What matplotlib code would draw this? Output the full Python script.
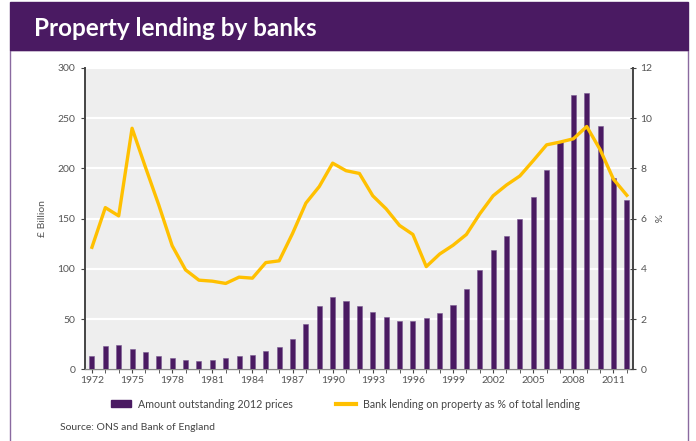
import matplotlib
matplotlib.use("Agg")
import matplotlib.pyplot as plt
from matplotlib.patches import Rectangle
from matplotlib.lines import Line2D
from matplotlib.patches import Patch

years = list(range(1972, 2013))
amount = [13, 23.5, 24.5, 20.5, 17, 13, 11, 9, 8, 9, 11, 13, 14.5, 18, 22, 30,
          45.5, 63.5, 71.5, 68.5, 63.5, 57, 52.5, 48, 48, 51.5, 56, 64.5, 80,
          98.5, 118.5, 133, 149.5, 172, 198, 227, 273, 275, 242, 190, 169]
pct = [4.86, 6.44, 6.11, 9.6, 8.05, 6.54, 4.92, 3.96, 3.55, 3.51, 3.42, 3.67,
       3.63, 4.25, 4.32, 5.41, 6.62, 7.28, 8.21, 7.91, 7.8, 6.91, 6.39, 5.73,
       5.37, 4.09, 4.59, 4.94, 5.37, 6.19, 6.91, 7.34, 7.7, 8.31, 8.94, 9.05,
       9.18, 9.67, 8.75, 7.57, 6.93]
xtick_years = list(range(1972, 2012, 3))

title = "Property lending by banks"
bar_label = "Amount outstanding 2012 prices"
line_label = "Bank lending on property as % of total lending"
source = "Source: ONS and Bank of England"

purple = "#4a1a62"
yellow = "#ffc000"
grey_txt = "#555555"
spine_c = "#444444"

plt.rcParams['font.family'] = ['Lato', 'DejaVu Sans']

fig = plt.figure(figsize=(6.96, 4.41), dpi=100)
W, H = 696, 441

# header band and frame
fig.patches.append(Rectangle((10 / W, -0.01), 678 / W, 1 - 50 / H + 0.01,
                             transform=fig.transFigure, facecolor="white",
                             edgecolor="#8a6aa0", linewidth=1.0, zorder=-10))
fig.patches.append(Rectangle((10 / W, 1 - 50 / H), 678 / W, 48 / H,
                             transform=fig.transFigure, color=purple, zorder=-9))
fig.text(34 / W, 1 - 28 / H, title, color="white", fontsize=17.5,
         fontweight="bold", va="center", ha="left")

ax = fig.add_axes([85 / W, 1 - 369.3 / H, (633 - 85) / W, (369.3 - 68) / H])
ax.set_facecolor("#eeeeee")
ax.bar(years, amount, width=0.38, color=purple, edgecolor="#7a5a92",
       linewidth=0.4, zorder=3)
ax.set_ylim(0, 300)
ax.set_xlim(1971.48, 2012.46)
ax.set_yticks(range(0, 301, 50))
ax.yaxis.grid(True, color="white", linewidth=1.6, zorder=1)
ax.set_axisbelow(True)
ax.set_xticks(xtick_years)
ax.set_xticks(years, minor=True)
ax.tick_params(axis="x", which="both", direction="out", length=3,
               color=spine_c, labelsize=7.5, labelcolor=grey_txt, pad=2)
ax.tick_params(axis="y", direction="out", length=3, color=spine_c,
               labelsize=7.5, labelcolor=grey_txt, pad=4)
ax.spines["top"].set_visible(False)
ax.spines["right"].set_visible(False)
ax.spines["left"].set_color(spine_c)
ax.spines["left"].set_linewidth(1.4)
ax.spines["bottom"].set_color("#888888")
ax.spines["bottom"].set_linewidth(1.0)
ax.set_ylabel("£ Billion", fontsize=7.5, color=grey_txt)
ax.yaxis.set_label_coords((47 - 85) / 548, 0.5)

ax2 = ax.twinx()
ax2.plot(years, pct, color=yellow, linewidth=2.4, zorder=5,
         solid_joinstyle="round")
ax2.set_ylim(0, 12)
ax2.set_yticks(range(0, 13, 2))
ax2.tick_params(axis="y", direction="inout", length=5, color=spine_c,
                labelsize=7.5, labelcolor=grey_txt, pad=3)
for s in ["top", "left", "bottom"]:
    ax2.spines[s].set_visible(False)
ax2.spines["right"].set_color(spine_c)
ax2.spines["right"].set_linewidth(1.4)
ax2.set_ylabel("%", fontsize=7.5, color=grey_txt, rotation=270,
               va="center", ha="center")
ax2.yaxis.set_label_coords((656 - 85) / 548, 0.5)

handles = [Patch(facecolor=purple, edgecolor=purple),
           Line2D([0], [0], color=yellow, linewidth=3)]
fig.legend(handles, [bar_label, line_label], loc="center",
           bbox_to_anchor=(345.5 / W, 1 - 404 / H), ncol=2, frameon=False,
           fontsize=7.7, labelcolor="#444444", columnspacing=4.1,
           handlelength=1.8, handleheight=0.6, handletextpad=0.65,
           borderpad=0, borderaxespad=0)
fig.text(60 / W, 1 - 428 / H, source, fontsize=7.5, color="#444444",
         va="center", ha="left")

fig.savefig("out.png", dpi=100)
